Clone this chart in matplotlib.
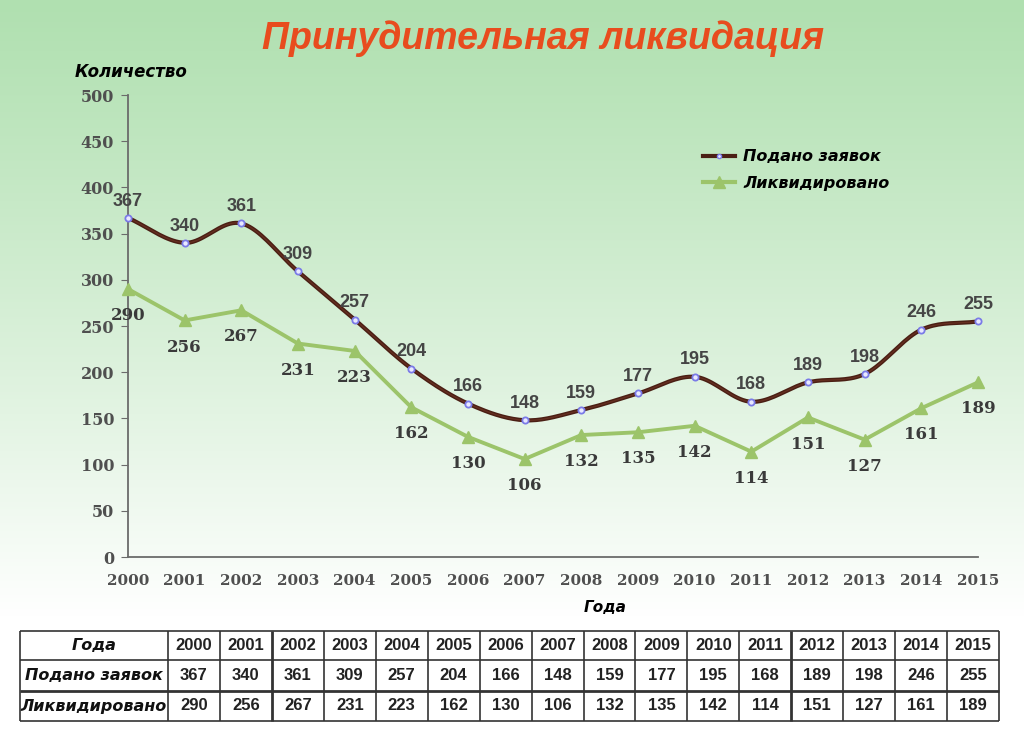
import numpy as np
import matplotlib
matplotlib.use("Agg")
import matplotlib.pyplot as plt
from matplotlib.lines import Line2D

years = [2000, 2001, 2002, 2003, 2004, 2005, 2006, 2007, 2008, 2009, 2010, 2011, 2012, 2013, 2014, 2015]
filed = [367, 340, 361, 309, 257, 204, 166, 148, 159, 177, 195, 168, 189, 198, 246, 255]
liquidated = [290, 256, 267, 231, 223, 162, 130, 106, 132, 135, 142, 114, 151, 127, 161, 189]
yticks = [0, 50, 100, 150, 200, 250, 300, 350, 400, 450, 500]

title = "Принудительная ликвидация"
ylabel = "Количество"
xlabel = "Года"
name1 = "Подано заявок"
name2 = "Ликвидировано"

BROWN = "#4a1f14"
GREEN = "#9cc46a"
TXT = "#454545"


def smooth(x, y, n=20):
    x = np.asarray(x, float)
    y = np.asarray(y, float)
    px = np.concatenate([[2 * x[0] - x[1]], x, [2 * x[-1] - x[-2]]])
    py = np.concatenate([[2 * y[0] - y[1]], y, [2 * y[-1] - y[-2]]])
    xs, ys = [], []
    for i in range(1, len(px) - 2):
        t = np.linspace(0, 1, n, endpoint=False)
        for arr, out in ((px, xs), (py, ys)):
            p0, p1, p2, p3 = arr[i - 1], arr[i], arr[i + 1], arr[i + 2]
            out.extend(0.5 * ((2 * p1) + (-p0 + p2) * t + (2 * p0 - 5 * p1 + 4 * p2 - p3) * t ** 2
                              + (-p0 + 3 * p1 - 3 * p2 + p3) * t ** 3))
    xs.append(x[-1]); ys.append(y[-1])
    return np.array(xs), np.array(ys)


fig = plt.figure(figsize=(10.24, 7.34), dpi=100)

# background gradient
bg = fig.add_axes([0, 0, 1, 1], zorder=-10)
h = 734
g = np.linspace(0, 1, h)
top = np.array([176, 224, 176]) / 255.0
bot = np.array([1.0, 1.0, 1.0])
frac = np.clip(g / 0.84, 0, 1) ** 1.1
img = top[None, :] * (1 - frac[:, None]) + bot[None, :] * frac[:, None]
img = np.repeat(img[:, None, :], 4, axis=1)
bg.imshow(img, aspect="auto", extent=[0, 1, 0, 1], origin="upper")
bg.axis("off")

ax = fig.add_axes([128 / 1024, 177 / 734, 850 / 1024, 462 / 734])
ax.set_facecolor("none")
ax.set_xlim(2000, 2015)
ax.set_ylim(0, 500)
for s in ["top", "right"]:
    ax.spines[s].set_visible(False)
for s in ["left", "bottom"]:
    ax.spines[s].set_color("#6b6b6b")
    ax.spines[s].set_linewidth(1.3)
ax.set_yticks(yticks)
ax.set_xticks(years)
ax.tick_params(axis="y", length=5, color="#6b6b6b", labelsize=11.5, labelcolor="#4f4f4f", pad=5)
ax.tick_params(axis="x", length=0, labelsize=11, labelcolor="#4f4f4f", pad=12)
for lab in ax.get_xticklabels() + ax.get_yticklabels():
    lab.set_fontfamily("DejaVu Serif")
    lab.set_fontweight("bold")

# series 2 (straight lines)
ax.plot(years, liquidated, color=GREEN, lw=2.8, marker="^", ms=8.5, mfc=GREEN, mec=GREEN, zorder=3,
        clip_on=False)
# series 1 (smoothed)
sx, sy = smooth(years, filed)
ax.plot(sx, sy, color=BROWN, lw=3.0, zorder=4, solid_capstyle="round", clip_on=False)
ax.plot(sx, sy, color="#7a3a2a", lw=0.9, zorder=4, alpha=0.6, clip_on=False)
ax.plot(years, filed, ls="none", marker="o", ms=4.5, mfc="#e8e8ff", mec="#7b7be8", mew=1.3, zorder=5,
        clip_on=False)

for x, v in zip(years, filed):
    ax.annotate(str(v), (x, v), xytext=(0, 6), textcoords="offset points", ha="center", va="bottom",
                fontsize=13, fontweight="bold", color=TXT, family="Liberation Sans", zorder=6)
for x, v in zip(years, liquidated):
    ax.annotate(str(v), (x, v), xytext=(0, -13), textcoords="offset points", ha="center", va="top",
                fontsize=12, fontweight="bold", color="#3a3a3a", family="DejaVu Serif", zorder=6)

# legend
handles = [
    Line2D([], [], color=BROWN, lw=3, marker="o", ms=3, mfc="#e8e8ff", mec="#7b7be8"),
    Line2D([], [], color=GREEN, lw=3, marker="^", ms=8, mfc=GREEN, mec=GREEN),
]
leg = ax.legend(handles, [name1, name2], loc="upper left", bbox_to_anchor=(0.66, 0.914), frameon=False,
                handlelength=2.0, handletextpad=0.5, labelspacing=0.75,
                prop={"family": "DejaVu Sans", "weight": "bold", "style": "italic", "size": 11.5})

fig.text(0.53, 0.947, title, ha="center", va="center", fontsize=27, fontweight="bold", style="italic",
         color="#e84c1e", family=["Liberation Sans Narrow", "Liberation Sans"])
fig.text(75 / 1024, 1 - 72 / 734, ylabel, ha="left", va="center", fontsize=12, fontweight="bold",
         style="italic", color="black", family="DejaVu Sans")
fig.text(605 / 1024, 1 - 608 / 734, xlabel, ha="center", va="center", fontsize=11, fontweight="bold",
         style="italic", color="black", family="DejaVu Sans")

# table
tab = fig.add_axes([0, 0, 1, 1], zorder=5)
tab.set_xlim(0, 1024)
tab.set_ylim(734, 0)
tab.axis("off")
x0, x1, xc = 20, 999, 168
ytop, ybot = 631, 721
rows = [631, 660, 691, 721]
cw = (x1 - xc) / len(years)
tab.add_patch(plt.Rectangle((x0, ytop), x1 - x0, ybot - ytop, facecolor="white", edgecolor="none"))
for i, yv in enumerate(rows):
    tab.plot([x0, x1], [yv, yv], color="#333333", lw=2.0 if i == 2 else 1.2, solid_capstyle="butt")
xs_lines = [x0, xc] + [xc + cw * (k + 1) for k in range(len(years))]
for k, xv in enumerate(xs_lines):
    thick = k in (3, 13)
    tab.plot([xv, xv], [ytop, ybot], color="#333333", lw=2.0 if thick else 1.2, solid_capstyle="butt")
row_names = [xlabel, name1, name2]
row_vals = [years, filed, liquidated]
for r in range(3):
    yc = (rows[r] + rows[r + 1]) / 2
    tab.text((x0 + xc) / 2, yc, row_names[r], ha="center", va="center", fontsize=11.5, fontweight="bold",
             style="italic", family="DejaVu Sans", color="#111111")
    for k, v in enumerate(row_vals[r]):
        tab.text(xc + cw * (k + 0.5), yc, str(v), ha="center", va="center", fontsize=12, fontweight="bold",
                 family="Liberation Sans", color="#222222")

fig.savefig("out.png", dpi=100)
